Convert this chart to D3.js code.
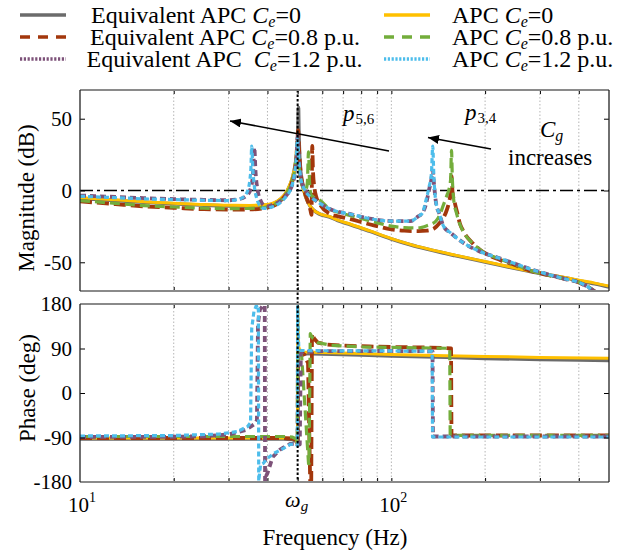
<!DOCTYPE html>
<html><head><meta charset="utf-8">
<script src="https://cdn.jsdelivr.net/npm/d3@7"></script>
<style>
body{margin:0;background:#fff;}
svg{display:block;font-family:"Liberation Serif","Times New Roman",serif;}
</style></head><body>
<svg id="c" width="632" height="552"></svg>
<script>
// ---------- DATA (frequency Hz, value) ----------
const magTicks = [-50, 0, 50];
const phaseTicks = [-180, -90, 0, 90, 180];
const gridFreqs = [20, 30, 40, 60, 70, 80, 90, 100, 200, 300, 400];
const xTickFreqs = [20, 30, 40, 50, 60, 70, 80, 90, 100, 200, 300, 400];
const omegaG = 50;

const magEqCe0 = [[10,-5.5],[13,-7],[16,-8.2],[20,-9.2],[25,-10.2],[30,-10.7],[35,-10.8],[40,-10.2],[42,-9],[44,-6.2],[45.5,-3],[46.5,0.5],[47.5,5],[48.3,10],[49,16.5],[49.5,23],[49.9,32],[50.15,45],[50.3,58],[50.45,42],[50.8,22],[51.4,8],[52,3],[53,-4],[54.7,-10.5],[56.5,-14],[58.6,-16.3],[64,-18.8],[67,-20.8],[74,-23.8],[85,-28.3],[100,-33.8],[115,-37.8],[130,-40.8],[160,-45.3],[200,-49.8],[270,-55.8],[300,-57.8],[350,-60.3],[400,-62.8],[450,-65],[500,-67.2]];
const magApcCe0 = [[10,-5],[13,-6.5],[16,-7.8],[20,-8.8],[25,-9.8],[30,-10.3],[35,-10.4],[40,-9.8],[42,-8.5],[44,-5.8],[45.5,-2.5],[46.5,1],[47.5,5.5],[48.3,10.5],[49,17],[49.4,23],[49.7,31],[50.0,26],[50.4,17],[51,9],[51.8,3],[53,-4],[54.7,-10.5],[56.5,-14],[58.6,-16],[64,-18.5],[67,-20.5],[74,-23.5],[85,-28],[100,-33.5],[115,-37.5],[130,-40.5],[160,-45],[200,-49.5],[270,-55.5],[300,-57.5],[350,-60],[400,-62.5],[450,-64.5],[500,-66.5]];
const magEqCe08 = [[10,-7.5],[13,-9.5],[16,-11],[20,-12],[25,-13],[30,-13.3],[35,-13.2],[40,-12],[42,-10.5],[44,-7.5],[45.5,-4],[46.5,-1],[47.5,3],[48.3,8],[49,14],[49.5,22],[49.9,34],[50.2,42],[50.5,30],[51,16],[51.8,5],[53,-3],[54.2,-9],[55,-14],[55.4,-17],[55.7,31],[56,14],[56.6,2],[57.5,-5],[58.6,-8.6],[64,-16.7],[67,-17.8],[74,-20],[85,-23.5],[100,-27],[110,-28],[122,-28.3],[130,-28],[137,-26.5],[143,-22.5],[147,-19],[151,-13],[153,-8.6],[154.8,-2],[156,10],[157.2,-1],[160,-9],[163,-16],[166,-23],[170,-28],[183,-37],[192,-41],[224,-48.5],[246,-51.4],[280,-56],[320,-59],[360,-61.5],[400,-64],[430,-67.5],[455,-71]];
const magApcCe08 = [[10,-7],[13,-9],[16,-10.5],[20,-11.5],[25,-12.3],[30,-12.6],[35,-12.5],[40,-11.3],[42,-9.8],[44,-7],[45.5,-3.5],[46.5,-0.5],[47.5,3.5],[48.3,8.5],[49,15],[49.5,23],[49.9,33],[50.2,28],[50.6,16],[51.2,7],[52,2],[53,0],[53.7,5],[54.2,27],[54.6,6],[55.2,-3],[56.5,-5],[58.6,-6.5],[64,-13.5],[67,-15],[74,-17.5],[85,-21],[100,-24.8],[110,-25.8],[122,-26],[130,-24.5],[139,-21.3],[143,-17],[147,-10],[151,-3],[153,0.5],[155,8],[156,28],[157,8],[158.5,-6],[162,-16],[166,-23.5],[170,-28.5],[183,-37],[192,-41],[224,-48],[246,-51.2],[280,-55.8],[320,-59],[360,-61.5],[400,-63.8],[430,-67],[452,-71]];
const magEqCe12 = [[10,-3.5],[13,-4.5],[16,-5.3],[20,-6],[25,-6.5],[30,-6.8],[32.5,-6],[34.5,-3],[35.5,3],[36,14],[36.3,30],[36.6,14],[37.2,0],[38,-7],[39,-10.5],[40,-11],[41.5,-10],[43.5,-8],[45.5,-4.5],[47,-0.5],[48.2,5],[49,12],[49.6,24],[50,38],[50.4,25],[51,12],[52,3],[53,0],[55,-4],[58,-8],[60,-10],[64,-13.2],[74,-16.5],[85,-19.5],[100,-21.3],[115,-21.3],[122,-18],[126,-15.5],[129,-10],[132,0],[134.5,8],[135.8,14],[137,5],[139,-8],[143,-17],[147,-24.8],[155,-29.5],[170,-36.3],[190,-42],[219,-46.7],[250,-51],[280,-54.8],[320,-58.5],[360,-61.5],[400,-64],[430,-67.5],[452,-71]];
const magApcCe12 = [[10,-4],[13,-5],[16,-5.8],[20,-6.3],[25,-6.8],[30,-7],[32,-6.3],[33.5,-4.5],[34.5,-0.5],[35.1,7],[35.4,16],[35.6,31],[35.9,15],[36.3,3],[37,-6],[38,-11],[39,-12.5],[40.5,-12],[42.5,-10.5],[44.5,-7.5],[46,-4],[47.3,0],[48.3,6],[49,13],[49.5,22],[49.9,36],[50.2,30],[50.6,18],[51.2,8],[52.5,1],[54,-3],[55,-4.5],[58,-8],[60,-10],[64,-13.2],[74,-16.5],[85,-19.5],[100,-21.3],[115,-21.3],[122,-18],[126,-15.5],[128.4,-9],[132,2],[134.5,12],[135.8,31],[136.8,12],[139,-8],[143,-17],[147,-24.8],[155,-29.5],[170,-36.3],[190,-42],[219,-46.7],[250,-51],[280,-54.8],[320,-58.5],[360,-61.5],[400,-64],[430,-67.5],[450,-71]];

const phEqCe0 = [[10,-93],[30,-93],[45,-93],[48,-94],[49.5,-98],[50.1,-106],[50.2,80],[51,80],[60,79],[80,77],[100,75],[150,72.5],[200,70],[300,68],[400,67],[500,66]];
const phApcCe0 = [[10,-91],[30,-91],[45,-91],[48,-92],[49.5,-96],[50,-104],[50.05,175],[50.3,95],[51,83],[60,82],[80,80],[100,78],[150,75.5],[200,74],[300,72],[500,70.5]];
const phEqCe08 = [[10,-91],[30,-91],[45,-91],[48,-92],[49.5,-95],[50,-100],[50.1,80],[51,84],[52.5,78],[54,60],[54.85,-177],[55.3,-177],[55.6,120],[56.5,110],[58,102],[62,98],[70,96],[85,94],[100,93],[130,92],[150,91],[155.5,90],[156,-86],[200,-86],[300,-86],[500,-86]];
const phApcCe08 = [[10,-88],[30,-88],[45,-88],[48,-89],[49.5,-93],[49.9,-100],[50.0,80],[50.5,88],[51.5,75],[52.8,-30],[54.2,-143],[54.4,-143],[54.9,120],[56,110],[58,102],[64,96.5],[82,93],[110,92],[150,90.5],[154,90],[154.5,-85.5],[200,-85.5],[500,-85.5]];
const phEqCe12 = [[10,-89],[20,-88.5],[25,-87.5],[30,-84],[34,-75],[36.5,-62],[37,-55],[37.3,140],[37.8,168],[38.5,175],[39.2,178],[39.3,-178],[39.6,-168],[40,-162],[41.6,-129],[44,-114],[47.3,-103],[50,-103],[50.8,-104],[51.2,80],[52,83],[60,84.5],[100,85],[130,84.5],[135.6,84],[136,-88],[200,-88],[500,-88]];
const phApcCe12 = [[10,-87],[20,-86],[28,-83],[32,-78],[34.5,-68],[35.3,-60],[35.6,130],[36.2,165],[36.8,176],[37.4,178],[37.5,-178],[38,-145],[38.8,-142],[40,-132],[42,-122],[45,-112],[47.3,-104],[49,-103],[49.9,-106],[50.0,175],[50.4,95],[51.2,86],[60,85.5],[100,85],[130,84.5],[135.2,84],[135.6,-89],[200,-89],[500,-89]];

const seriesNames = ["Equivalent APC ", "APC ", "Equivalent APC ", "APC ", "Equivalent APC  ", "APC "];
const seriesCe = ["=0", "=0", "=0.8 p.u.", "=0.8 p.u.", "=1.2 p.u.", "=1.2 p.u."];

// ---------- STYLE ----------
const seriesStyle = [
  {color:"#6b6b6b", width:3.6, dash:null,  ldash:null},
  {color:"#FFC000", width:3.0, dash:null,  ldash:null},
  {color:"#A3370C", width:3.8, dash:"12,5", ldash:"10,8"},
  {color:"#73AD3B", width:3.2, dash:"10,5", ldash:"10,8"},
  {color:"#7D5279", width:3.8, dash:"6,4",  ldash:"2.2,1.6"},
  {color:"#4DBDEB", width:3.2, dash:"5,3",  ldash:"2.2,1.6"}
];
const magData = [magEqCe0, magApcCe0, magEqCe08, magApcCe08, magEqCe12, magApcCe12];
const phData  = [phEqCe0, phApcCe0, phEqCe08, phApcCe08, phEqCe12, phApcCe12];

const svg = d3.select("#c");
const L = 80, R = 609;
const magTop = 90, magBot = 291, phTop = 304, phBot = 482;
const x = d3.scaleLog().domain([10, 500]).range([L, R]);
const yM = d3.scaleLinear().domain([-70, 70]).range([magBot, magTop]);
const yP = d3.scaleLinear().domain([-180, 180]).range([phBot, phTop]);

const defs = svg.append("defs");
defs.append("clipPath").attr("id","clipM").append("rect").attr("x",L).attr("y",magTop).attr("width",R-L).attr("height",magBot-magTop);
defs.append("clipPath").attr("id","clipP").append("rect").attr("x",L).attr("y",phTop).attr("width",R-L).attr("height",phBot-phTop);
defs.append("marker").attr("id","arr").attr("markerUnits","userSpaceOnUse")
  .attr("markerWidth",12).attr("markerHeight",9).attr("refX",11).attr("refY",4.5).attr("orient","auto")
  .append("path").attr("d","M0,0 L11,4.5 L0,9 Z").attr("fill","#000");

// grid
function grid(top, bot){
  svg.append("g").selectAll("line").data(gridFreqs).join("line")
    .attr("x1", d=>x(d)).attr("x2", d=>x(d)).attr("y1", top).attr("y2", bot)
    .attr("stroke","#b5b5b5").attr("stroke-width",1).attr("stroke-dasharray","1.5,2");
}
grid(magTop, magBot); grid(phTop, phBot);

// zero dash-dot line
svg.append("line").attr("x1",L).attr("x2",R).attr("y1",yM(0)).attr("y2",yM(0))
  .attr("stroke","#000").attr("stroke-width",1.5).attr("stroke-dasharray","13,4,3,4");

// curves
const lineM = d3.line().x(d=>x(d[0])).y(d=>yM(d[1])).curve(d3.curveMonotoneX);
const lineP = d3.line().x(d=>x(d[0])).y(d=>yP(d[1]));
const gM = svg.append("g").attr("clip-path","url(#clipM)");
const gP = svg.append("g").attr("clip-path","url(#clipP)");
seriesStyle.forEach((s,i)=>{
  gM.append("path").attr("d", lineM(magData[i])).attr("fill","none")
    .attr("stroke", s.color).attr("stroke-width", s.width).attr("stroke-dasharray", s.dash)
    .attr("stroke-linejoin","round");
  gP.append("path").attr("d", lineP(phData[i])).attr("fill","none")
    .attr("stroke", s.color).attr("stroke-width", s.width).attr("stroke-dasharray", s.dash)
    .attr("stroke-linejoin","round");
});

// omega_g line
svg.append("line").attr("x1",x(omegaG)).attr("x2",x(omegaG)).attr("y1",magTop).attr("y2",phBot)
  .attr("stroke","#000").attr("stroke-width",2).attr("stroke-dasharray","2.5,2");

// axes
function yAxes(scale, ticks){
  const gl = svg.append("g").attr("transform",`translate(${L},0)`)
    .call(d3.axisLeft(scale).tickValues(ticks).tickSize(-5).tickPadding(8).tickFormat(d=>d));
  gl.select(".domain").remove();
  gl.selectAll("text").attr("font-size",21).attr("font-family","Liberation Serif").attr("fill","#000");
  gl.selectAll("line").attr("stroke","#000");
  const gr = svg.append("g").attr("transform",`translate(${R},0)`)
    .call(d3.axisRight(scale).tickValues(ticks).tickSize(-5).tickFormat(""));
  gr.select(".domain").remove();
  gr.selectAll("line").attr("stroke","#000");
}
yAxes(yM, magTicks); yAxes(yP, phaseTicks);
function xTicks(yy, dir){
  const ax = dir==="b" ? d3.axisBottom(x) : d3.axisTop(x);
  const g = svg.append("g").attr("transform",`translate(0,${yy})`)
    .call(ax.tickValues(xTickFreqs).tickSize(-4).tickFormat(""));
  g.select(".domain").remove();
  g.selectAll("line").attr("stroke","#000");
}
xTicks(magBot,"b"); xTicks(magTop,"t"); xTicks(phBot,"b"); xTicks(phTop,"t");

// boxes
function box(top, bot){
  svg.append("line").attr("x1",L).attr("x2",R).attr("y1",top).attr("y2",top).attr("stroke","#8a8a8a").attr("stroke-width",2);
  svg.append("line").attr("x1",L).attr("x2",R).attr("y1",bot).attr("y2",bot).attr("stroke","#8a8a8a").attr("stroke-width",2);
  svg.append("line").attr("x1",L).attr("x2",L).attr("y1",top).attr("y2",bot).attr("stroke","#222").attr("stroke-width",1.3);
  svg.append("line").attr("x1",R).attr("x2",R).attr("y1",top).attr("y2",bot).attr("stroke","#222").attr("stroke-width",1.3);
}
box(magTop, magBot); box(phTop, phBot);

// x tick labels
function decadeLabel(f, sup){
  const t = svg.append("text").attr("x", x(f)+2).attr("y", 512).attr("text-anchor","middle").attr("font-size",21);
  t.append("tspan").text("10");
  t.append("tspan").attr("font-size",14).attr("dy",-10).text(sup);
}
decadeLabel(10,"1"); decadeLabel(100,"2");
const om = svg.append("text").attr("x", x(omegaG)-1).attr("y", 507).attr("text-anchor","middle").attr("font-size",22);
om.append("tspan").attr("font-style","italic").text("ω");
om.append("tspan").attr("font-style","italic").attr("font-size",15).attr("dy",4).text("g");

// axis titles
svg.append("text").attr("transform","translate(34,198) rotate(-90)").attr("text-anchor","middle").attr("font-size",23).text("Magnitude (dB)");
svg.append("text").attr("transform","translate(35,388) rotate(-90)").attr("text-anchor","middle").attr("font-size",23).text("Phase (deg)");
svg.append("text").attr("x",335).attr("y",545).attr("text-anchor","middle").attr("font-size",23).text("Frequency (Hz)");

// annotations
svg.append("line").attr("x1",389).attr("y1",151).attr("x2",230).attr("y2",121).attr("stroke","#000").attr("stroke-width",1.6).attr("marker-end","url(#arr)");
svg.append("line").attr("x1",491).attr("y1",149).attr("x2",428).attr("y2",137.5).attr("stroke","#000").attr("stroke-width",1.6).attr("marker-end","url(#arr)");
function pLabel(xx, yy, sub){
  const t = svg.append("text").attr("x",xx).attr("y",yy).attr("font-size",23);
  t.append("tspan").attr("font-style","italic").text("p");
  t.append("tspan").attr("font-size",15).attr("dy",3).attr("dx",1).text(sub);
}
pLabel(343,121,"5,6"); pLabel(465,120,"3,4");
const cg = svg.append("text").attr("x",540).attr("y",137).attr("font-size",23);
cg.append("tspan").attr("font-style","italic").text("C");
cg.append("tspan").attr("font-style","italic").attr("font-size",16).attr("dy",4).text("g");
svg.append("text").attr("x",508).attr("y",165).attr("font-size",23).text("increases");

// legend
const legRowY = [15, 37, 59];
const legColLine = [[20,66],[384,430]];
const legTextX = [[91,452],[90,452],[86.5,452]];
seriesStyle.forEach((s,i)=>{
  const row = Math.floor(i/2), col = i%2;
  const y0 = legRowY[row];
  svg.append("line").attr("x1",legColLine[col][0]).attr("x2",legColLine[col][1]).attr("y1",y0).attr("y2",y0)
    .attr("stroke",s.color).attr("stroke-width",3.5).attr("stroke-dasharray",s.ldash);
  const t = svg.append("text").attr("x",legTextX[row][col]).attr("y",y0+7.5).attr("font-size",24).style("white-space","pre");
  t.append("tspan").text(seriesNames[i]);
  t.append("tspan").attr("font-style","italic").text("C");
  t.append("tspan").attr("font-style","italic").attr("font-size",16).attr("dy",4).text("e");
  t.append("tspan").attr("dy",-4).text(seriesCe[i]);
});
</script>
</body></html>
